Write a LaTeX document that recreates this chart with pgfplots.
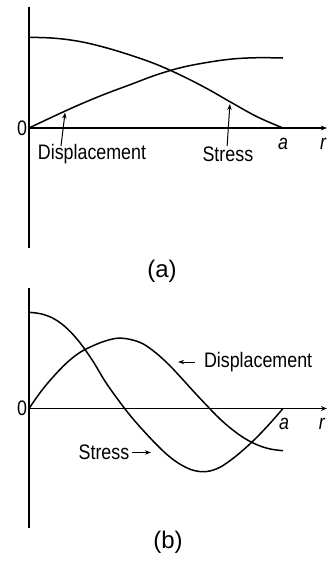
\documentclass[border=0pt]{standalone}
\usepackage{fontspec}
\setmainfont{Liberation Sans}
\newfontfamily\narrowfont{Liberation Sans}[FakeStretch=0.85]
\usepackage{pgfplots}
\pgfplotsset{compat=1.18}
\usetikzlibrary{arrows.meta}

\newcommand\lbl{\narrowfont\fontsize{10.5}{12.6}\selectfont}

% one panel: r/a along x (a = 127pt), values in half points up the page
\pgfplotsset{panel/.style={
  x=127pt, y=0.5pt, xmin=0, xmax=1.173,
  axis x line*=middle, axis y line*=middle,
  axis line style={line width=0.75pt, black},
  x axis line style={-{Stealth[length=3pt,width=2.4pt]}},
  xtick=\empty, ytick=\empty, enlargelimits=false, clip=false,
  anchor=south west,
}}
\tikzset{curve/.style={black, line width=0.75pt, smooth, tension=0.6, mark=none}}

\begin{document}
\begin{tikzpicture}
\path[use as bounding box] (0,0) rectangle (164pt,-282pt);

% (a)
\begin{axis}[panel, at={(14.5pt,-124pt)}, ymin=-120, ymax=121]
\addplot[curve] coordinates {(0,90.7) (0.1,89.8) (0.2,86.5) (0.3,80.5) (0.4,72.8)
  (0.5,63.8) (0.6,52.5) (0.7,39.5) (0.8,25) (0.9,11) (1.0,0)};
\addplot[curve] coordinates {(0,0) (0.1,12) (0.2,23.5) (0.3,34) (0.4,43.5)
  (0.5,53) (0.6,60.5) (0.7,65.5) (0.8,69) (0.9,70.3) (1.0,70)};
\node[font=\lbl] at (-0.0276,0) {0};
\node[font=\lbl] at (1.0,-16.3) {\textit{a}};
\node[font=\lbl] at (1.159,-16.3) {\textit{r}};
\node[font=\lbl] at (0.248,-26) {Displacement};
\node[font=\lbl] at (0.783,-26) {Stress};
\draw[line width=0.5pt,-{Stealth[length=3pt,width=2.2pt]}] (0.126,-18) -- (0.142,15.5);
\draw[line width=0.5pt,-{Stealth[length=3pt,width=2.2pt]}] (0.780,-18) -- (0.791,24);
\end{axis}

% (b)
\begin{axis}[panel, at={(14.5pt,-264pt)}, ymin=-119.5, ymax=120.5]
\addplot[curve] coordinates {(0,96.2) (0.05,94.5) (0.1,89.5) (0.15,80) (0.2,66)
  (0.25,48) (0.3,27) (0.35,9) (0.4,-7.5) (0.45,-22) (0.5,-35.5) (0.55,-47.5)
  (0.6,-56.5) (0.65,-62) (0.7,-63) (0.75,-59) (0.8,-50.5) (0.85,-40)
  (0.9,-28) (0.95,-14.5) (1.0,0)};
\addplot[curve] coordinates {(0,0) (0.05,18) (0.1,33) (0.15,46) (0.2,56)
  (0.25,62.5) (0.3,67.5) (0.35,70.3) (0.4,69) (0.45,64.5) (0.5,55.5)
  (0.55,44) (0.6,30.5) (0.65,16.5) (0.7,3) (0.75,-10) (0.8,-21)
  (0.85,-30) (0.9,-36.5) (0.95,-40.5) (1.0,-42.2)};
\node[font=\lbl] at (-0.0276,0) {0};
\node[font=\lbl] at (1.004,-15.5) {\textit{a}};
\node[font=\lbl] at (1.154,-15.5) {\textit{r}};
\node[font=\lbl] at (0.902,46.5) {Displacement};
\node[font=\lbl] at (0.295,-43.5) {Stress};
\draw[line width=0.5pt,-{Stealth[length=3pt,width=2.2pt]}] (0.654,46.5) -- (0.587,46.5);
\draw[line width=0.5pt,-{Stealth[length=3pt,width=2.2pt]}] (0.406,-44) -- (0.480,-44);
\end{axis}

\node[font=\fontsize{12}{14}\selectfont] at (81pt,-135.85pt) {(a)};
\node[font=\fontsize{12}{14}\selectfont] at (84pt,-271pt) {(b)};
\end{tikzpicture}
\end{document}
